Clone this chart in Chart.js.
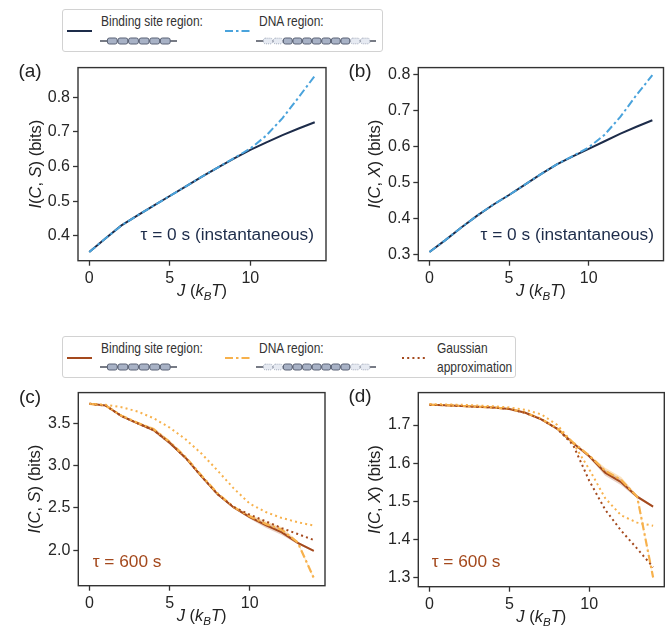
<!DOCTYPE html>
<html>
<head>
<meta charset="utf-8">
<script src="https://cdn.jsdelivr.net/npm/chart.js@4.4.0/dist/chart.umd.min.js"></script>
<style>
  body { margin: 0; background: #fff; }
  #page { position: relative; width: 671px; height: 634px; overflow: hidden; font-family: "Liberation Sans", Arial, sans-serif; }
  .panel { position: absolute; }
  .legend { position: absolute; box-sizing: border-box; border: 1px solid #d2d2d2; border-radius: 3px; background: #fff; }
  .legend > * { position: absolute; }
  .legend span { font-family: "Liberation Sans", Arial, sans-serif; font-size: 14.8px; line-height: 16px; color: #333; white-space: nowrap;
                 transform: scaleX(0.81); transform-origin: 0 50%; }
</style>
</head>
<body>
<div id="page">
  <div class="legend" id="legTop" style="left:62px; top:9px; width:321px; height:43px;"></div>
  <div class="legend" id="legBot" style="left:62px; top:336px; width:454px; height:42px;"></div>
  <canvas class="panel" id="pa" style="left:0px; top:55px;"></canvas>
  <canvas class="panel" id="pb" style="left:335px; top:55px;"></canvas>
  <canvas class="panel" id="pc" style="left:0px; top:380px;"></canvas>
  <canvas class="panel" id="pd" style="left:335px; top:380px;"></canvas>
</div>
<script>
const J = [0, 1, 2, 3, 4, 5, 6, 7, 8, 9, 10, 11, 12, 13, 14];
const xTicks = [0, 5, 10];

// tau = 0 s, mutual information with S
const bindA = [0.353, 0.392, 0.430, 0.459, 0.487, 0.515, 0.543, 0.571, 0.598, 0.624, 0.648, 0.670, 0.691, 0.710, 0.728];
const dnaA  = [0.353, 0.392, 0.430, 0.459, 0.487, 0.515, 0.543, 0.571, 0.598, 0.625, 0.652, 0.690, 0.740, 0.800, 0.862];
const yTicksA = [0.4, 0.5, 0.6, 0.7, 0.8];

// tau = 0 s, mutual information with X
const bindB = [0.307, 0.340, 0.375, 0.408, 0.438, 0.465, 0.494, 0.523, 0.550, 0.572, 0.593, 0.614, 0.635, 0.654, 0.672];
const dnaB  = [0.307, 0.340, 0.375, 0.408, 0.438, 0.465, 0.494, 0.523, 0.550, 0.573, 0.597, 0.632, 0.682, 0.742, 0.797];
const yTicksB = [0.3, 0.4, 0.5, 0.6, 0.7, 0.8];

// tau = 600 s, mutual information with S
const bindC = [3.73, 3.71, 3.585, 3.50, 3.42, 3.27, 3.09, 2.87, 2.66, 2.505, 2.39, 2.295, 2.21, 2.085, 1.99];
const dnaC  = [3.73, 3.71, 3.59, 3.505, 3.43, 3.28, 3.10, 2.88, 2.67, 2.51, 2.40, 2.31, 2.24, 2.09, 1.67];
const gaussBindC = [3.73, 3.71, 3.585, 3.50, 3.42, 3.27, 3.09, 2.87, 2.66, 2.51, 2.42, 2.34, 2.26, 2.19, 2.12];
const gaussDnaC  = [3.73, 3.72, 3.69, 3.64, 3.56, 3.45, 3.31, 3.14, 2.94, 2.73, 2.55, 2.45, 2.38, 2.33, 2.29];
const errC = [0, 0, 0.01, 0.01, 0.02, 0.02, 0.01, 0.01, 0.01, 0.01, 0.02, 0.03, 0.03, 0.015, 0.01];
const yTicksC = [2.0, 2.5, 3.0, 3.5];

// tau = 600 s, mutual information with X
const bindD = [1.753, 1.752, 1.750, 1.748, 1.746, 1.742, 1.732, 1.715, 1.690, 1.652, 1.618, 1.575, 1.550, 1.512, 1.486];
const dnaD  = [1.753, 1.752, 1.750, 1.748, 1.746, 1.742, 1.733, 1.716, 1.691, 1.654, 1.620, 1.580, 1.556, 1.512, 1.300];
const gaussBindD = [1.753, 1.752, 1.750, 1.748, 1.746, 1.742, 1.732, 1.715, 1.690, 1.647, 1.554, 1.478, 1.423, 1.376, 1.327];
const gaussDnaD  = [1.755, 1.754, 1.753, 1.751, 1.749, 1.746, 1.740, 1.728, 1.700, 1.652, 1.584, 1.508, 1.463, 1.444, 1.436];
const errD = [0, 0, 0, 0, 0, 0.001, 0.001, 0.002, 0.002, 0.002, 0.003, 0.008, 0.008, 0.004, 0.003];
const yTicksD = [1.3, 1.4, 1.5, 1.6, 1.7];

const NAVY = '#1d2c4a';
const SKY = '#4aa3dc';
const BROWN = '#a4491d';
const ORANGE = '#f7b14c';
const FONT = '"Liberation Sans", Arial, sans-serif';
const DASHDOT = [8, 3, 2.5, 3];
const DOTTED = [2, 3.2];

const pts = ys => ys.map((y, i) => ({ x: J[i], y }));

function line(data, color, dash, order, width) {
  return {
    data: pts(data), borderColor: color, borderWidth: width || 2, borderDash: dash || [],
    pointRadius: 0, tension: 0, fill: false, order
  };
}

// shaded band built from a series and its spread
function band(data, err, color, order) {
  return [
    { data: pts(data.map((v, i) => v + err[i])), borderWidth: 0, pointRadius: 0, fill: false, order },
    { data: pts(data.map((v, i) => v - err[i])), borderWidth: 0, pointRadius: 0, fill: '-1', backgroundColor: color, order }
  ];
}

// text made of italic / upright / subscript pieces
function rich(ctx, parts, cx, cy, rot, size) {
  const fontOf = p => (p.it ? 'italic ' : '') + (p.sub ? size * 0.7 : size) + 'px ' + FONT;
  let w = 0;
  parts.forEach(p => { ctx.font = fontOf(p); w += ctx.measureText(p.t).width; });
  ctx.save();
  ctx.translate(cx, cy);
  ctx.rotate(rot);
  ctx.textAlign = 'left';
  ctx.textBaseline = 'middle';
  let x = -w / 2;
  parts.forEach(p => {
    ctx.font = fontOf(p);
    ctx.fillText(p.t, x, p.sub ? size * 0.28 : 0);
    x += ctx.measureText(p.t).width;
  });
  ctx.restore();
}

const xTitle = [{ t: 'J', it: true }, { t: ' (' }, { t: 'k', it: true }, { t: 'B', it: true, sub: true }, { t: 'T', it: true }, { t: ')' }];
const yTitle = v => [{ t: 'I', it: true }, { t: '(' }, { t: 'C', it: true }, { t: ', ' }, { t: v, it: true }, { t: ') (bits)' }];

const decor = {
  id: 'decor',
  afterDraw(chart, args, o) {
    const { ctx, chartArea: a } = chart;
    ctx.save();
    ctx.strokeStyle = '#333';
    ctx.lineWidth = 1.4;
    ctx.strokeRect(a.left, a.top, a.right - a.left, a.bottom - a.top);

    ctx.fillStyle = '#222';
    ctx.font = '19px ' + FONT;
    ctx.textAlign = 'center';
    ctx.textBaseline = 'middle';
    ctx.fillText(o.letter, o.letterX, o.letterY);

    rich(ctx, xTitle, (a.left + a.right) / 2, a.bottom + 31, 0, 16.5);
    rich(ctx, yTitle(o.yVar), o.yTitleX, (a.top + a.bottom) / 2, -Math.PI / 2, 16.5);

    ctx.fillStyle = o.noteColor;
    ctx.font = '17.3px ' + FONT;
    ctx.textAlign = o.noteAlign;
    ctx.textBaseline = 'middle';
    ctx.fillText(o.note, o.noteX, o.noteY);
    ctx.restore();
  }
};

function axis(min, max, ticks, fit, digits) {
  return {
    type: 'linear', min, max,
    afterBuildTicks: s => { s.ticks = ticks.map(v => ({ value: v })); },
    afterFit: fit,
    grid: { display: true, drawOnChartArea: false, drawTicks: true, tickLength: 5, tickColor: '#333', tickWidth: 1.3 },
    border: { display: false },
    ticks: {
      color: '#262626', font: { size: 16, family: FONT }, padding: 3, maxRotation: 0, autoSkip: false,
      callback: v => digits ? v.toFixed(digits) : String(v)
    }
  };
}

function panel(id, w, h, p) {
  const cv = document.getElementById(id);
  cv.width = w; cv.height = h;
  cv.style.width = w + 'px'; cv.style.height = h + 'px';
  return new Chart(cv, {
    type: 'line',
    data: { datasets: p.datasets },
    options: {
      responsive: false, animation: false,
      layout: { padding: { left: 0, top: p.top, right: p.right, bottom: 0 } },
      plugins: { legend: { display: false }, tooltip: { enabled: false }, decor: p.decor },
      scales: {
        x: axis(-0.7, 14.7, xTicks, s => { s.height = p.xh; }, 0),
        y: axis(p.ymin, p.ymax, p.yticks, s => { s.width = p.yw; }, 1)
      }
    },
    plugins: [decor]
  });
}

panel('pa', 340, 250, {
  top: 7.7, right: 14, xh: 44.3, yw: 78, ymin: 0.328, ymax: 0.886, yticks: yTicksA,
  datasets: [line(bindA, NAVY, [], 2), line(dnaA, SKY, DASHDOT, 1)],
  decor: { letter: '(a)', letterX: 30, letterY: 16.7, yVar: 'S', yTitleX: 36,
           note: 'τ = 0 s (instantaneous)', noteColor: NAVY, noteAlign: 'right', noteX: 314, noteY: 180 }
});

panel('pb', 336, 250, {
  top: 7.7, right: 7.5, xh: 44.3, yw: 83.3, ymin: 0.283, ymax: 0.818, yticks: yTicksB,
  datasets: [line(bindB, NAVY, [], 2), line(dnaB, SKY, DASHDOT, 1)],
  decor: { letter: '(b)', letterX: 25, letterY: 16.7, yVar: 'X', yTitleX: 40,
           note: 'τ = 0 s (instantaneous)', noteColor: NAVY, noteAlign: 'right', noteX: 319, noteY: 180 }
});

panel('pc', 340, 254, {
  top: 6.7, right: 15, xh: 48.3, yw: 78.3, ymin: 1.579, ymax: 3.863, yticks: yTicksC,
  datasets: [
    ...band(dnaC, errC, 'rgba(247,177,76,0.35)', 7),
    ...band(bindC, errC, 'rgba(164,73,29,0.25)', 6),
    line(bindC, BROWN, [], 5),
    line(dnaC, ORANGE, DASHDOT, 4, 2.2),
    line(gaussBindC, BROWN, DOTTED, 3),
    line(gaussDnaC, ORANGE, DOTTED, 2)
  ],
  decor: { letter: '(c)', letterX: 30, letterY: 17.3, yVar: 'S', yTitleX: 35,
           note: 'τ = 600 s', noteColor: BROWN, noteAlign: 'left', noteX: 92.7, noteY: 182.7 }
});

panel('pd', 336, 254, {
  top: 6, right: 6.7, xh: 47.3, yw: 83.3, ymin: 1.276, ymax: 1.785, yticks: yTicksD,
  datasets: [
    ...band(dnaD, errD, 'rgba(247,177,76,0.35)', 7),
    ...band(bindD, errD, 'rgba(164,73,29,0.25)', 6),
    line(bindD, BROWN, [], 5),
    line(dnaD, ORANGE, DASHDOT, 4, 2.2),
    line(gaussBindD, BROWN, DOTTED, 3),
    line(gaussDnaD, ORANGE, DOTTED, 2)
  ],
  decor: { letter: '(d)', letterX: 25, letterY: 17, yVar: 'X', yTitleX: 40,
           note: 'τ = 600 s', noteColor: BROWN, noteAlign: 'left', noteX: 96.7, noteY: 182.7 }
});

// legend pieces: line samples and the little strand drawings
const NS = 'http://www.w3.org/2000/svg';
function svg(w, h, left, top, inner) {
  const el = document.createElementNS(NS, 'svg');
  el.setAttribute('width', w); el.setAttribute('height', h);
  el.style.left = left + 'px'; el.style.top = top + 'px';
  el.innerHTML = inner;
  return el;
}
function sample(color, dash, left, top) {
  return svg(25, 6, left, top,
    `<line x1="0" y1="3" x2="25" y2="3" stroke="${color}" stroke-width="2" stroke-dasharray="${dash.join(' ')}"/>`);
}
function strand(w, groups, left, top) {
  let s = `<line x1="0" y1="4" x2="${w}" y2="4" stroke="#4a4f5c" stroke-width="1.5"/>`;
  groups.forEach(g => {
    for (let k = 0; k < g.n; k++) {
      const x = g.x + k * g.w;
      s += g.ghost
        ? `<rect x="${x + 0.4}" y="1.2" width="${g.w - 0.8}" height="5.6" rx="2" fill="#e6eaf2" stroke="#98a1b4" stroke-width="0.9" stroke-dasharray="1 1"/>`
        : `<rect x="${x + 0.4}" y="1" width="${g.w - 0.8}" height="6" rx="2" fill="#a8b2c6" stroke="#5b6376" stroke-width="1"/>`;
    }
  });
  return svg(w, 8, left, top, s);
}
function label(str, left, cy) {
  const el = document.createElement('span');
  el.textContent = str;
  el.style.left = left + 'px';
  el.style.top = (cy - 8) + 'px';
  return el;
}
const siteStrand = (l, t) => strand(77, [{ x: 7, n: 6, w: 10.6 }], l, t);
const dnaStrand = (l, t) => strand(120, [{ x: 7, n: 2, w: 10, ghost: true }, { x: 27, n: 7, w: 9.6 }, { x: 94.2, n: 2, w: 10, ghost: true }], l, t);

const legTopEl = document.getElementById('legTop');
[sample(NAVY, [], 4, 18), label('Binding site region:', 37.5, 10.7), siteStrand(37, 26.7),
 sample(SKY, DASHDOT, 162, 18), label('DNA region:', 195.5, 10.7), dnaStrand(193, 26.7)].forEach(e => legTopEl.appendChild(e));

const legBotEl = document.getElementById('legBot');
[sample(BROWN, [], 4, 18), label('Binding site region:', 37.5, 11), siteStrand(37, 26),
 sample(ORANGE, DASHDOT, 162, 18), label('DNA region:', 195.5, 11), dnaStrand(193, 26),
 sample(BROWN, DOTTED, 339, 18), label('Gaussian', 374, 11), label('approximation', 374, 30)].forEach(e => legBotEl.appendChild(e));
</script>
</body>
</html>
